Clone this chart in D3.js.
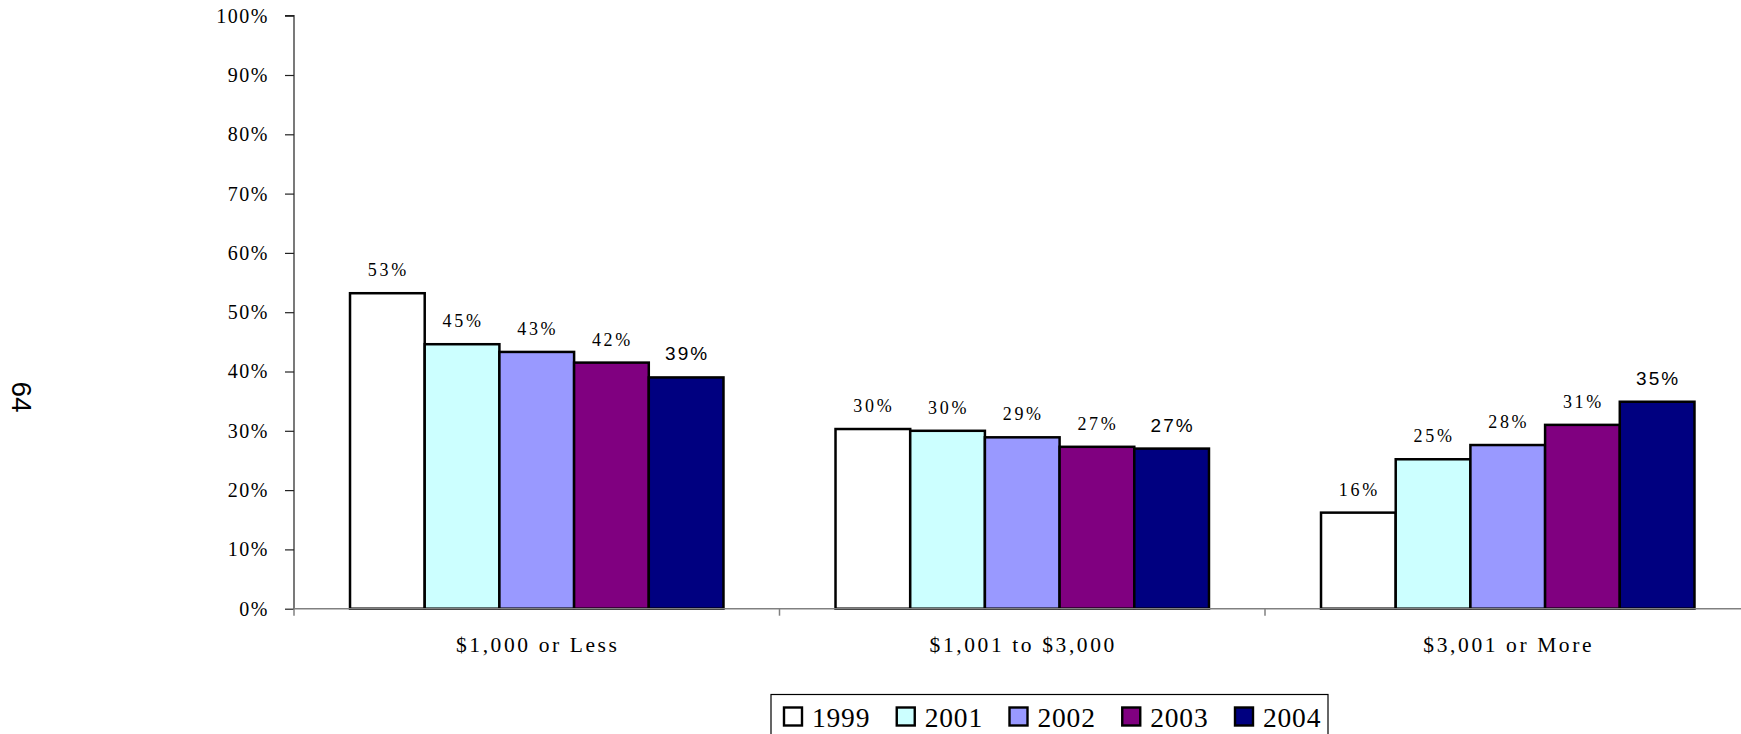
<!DOCTYPE html>
<html>
<head>
<meta charset="utf-8">
<script src="https://cdn.jsdelivr.net/npm/d3@7"></script>
<style>
  html, body { margin: 0; padding: 0; background: #fff; }
  svg { display: block; }
</style>
</head>
<body>
<svg id="chart" width="1741" height="734"></svg>
<script>
// Share of accounts by balance range, per survey year
const categories = ["$1,000 or Less", "$1,001 to $3,000", "$3,001 or More"];
const years = ["1999", "2001", "2002", "2003", "2004"];
const values1999 = [53.2, 30.3, 16.2];
const values2001 = [44.6, 30.0, 25.2];
const values2002 = [43.3, 28.9, 27.6];
const values2003 = [41.5, 27.3, 31.0];
const values2004 = [39.0, 27.0, 34.9];
const yTicks = [0, 10, 20, 30, 40, 50, 60, 70, 80, 90, 100];
const pageNumber = "64";

const seriesValues = [values1999, values2001, values2002, values2003, values2004];
const colors = ["#FFFFFF", "#CCFFFF", "#9999FF", "#800080", "#000080"];

const serif = "'Liberation Serif', 'Times New Roman', serif";
const sans = "'Liberation Sans', Arial, sans-serif";

const svg = d3.select("#chart");

const left = 294, zeroY = 608.7, topY = 15.7, bandW = 485.5;

const x0 = d3.scaleBand().domain(categories).range([left, left + bandW * 3]).padding(0);
const x1 = d3.scaleBand().domain(years).range([0, x0.bandwidth()]).paddingInner(0).paddingOuter(0.75);
const y = d3.scaleLinear().domain([0, 100]).range([zeroY, topY]);

// Y axis
const yAxis = d3.axisLeft(y)
  .tickValues(yTicks)
  .tickFormat(d => d + "%")
  .tickSize(9)
  .tickPadding(16);
const yg = svg.append("g").attr("transform", `translate(${left},0)`).call(yAxis);
yg.select(".domain").attr("stroke", "#222").attr("stroke-width", 1.2).attr("d", `M-9,${topY}H0V${zeroY}`);
yg.selectAll(".tick line").attr("stroke", "#222").attr("stroke-width", 1.2);
yg.selectAll(".tick text")
  .attr("fill", "#000")
  .style("font-family", serif)
  .style("font-size", "20px")
  .style("letter-spacing", "1.5px");

// Bars
const groups = svg.append("g").selectAll("g")
  .data(categories)
  .join("g")
  .attr("transform", d => `translate(${x0(d)},0)`);

const barData = (c, ci) => years.map((yr, si) => ({ year: yr, si, value: seriesValues[si][ci] }));

groups.selectAll("rect")
  .data((c, ci) => barData(c, ci))
  .join("rect")
  .attr("x", d => x1(d.year))
  .attr("y", d => y(d.value))
  .attr("width", x1.bandwidth())
  .attr("height", d => zeroY - y(d.value))
  .attr("fill", d => colors[d.si])
  .attr("stroke", "#000")
  .attr("stroke-width", 2.5);

// Value labels (2004 series uses a sans face)
groups.selectAll("text")
  .data((c, ci) => barData(c, ci))
  .join("text")
  .attr("x", d => x1(d.year) + x1.bandwidth() / 2 + 1)
  .attr("y", d => y(d.value) - 17)
  .attr("text-anchor", "middle")
  .style("font-family", d => d.si === 4 ? sans : serif)
  .style("font-size", d => d.si === 4 ? "19px" : "18px")
  .style("letter-spacing", d => d.si === 4 ? "2px" : "2.7px")
  .attr("fill", "#000")
  .text(d => Math.round(d.value) + "%");

// X axis baseline with category dividers
const xg = svg.append("g");
xg.append("line")
  .attr("x1", left).attr("x2", 1741)
  .attr("y1", zeroY).attr("y2", zeroY)
  .attr("stroke", "#808080").attr("stroke-width", 1.5);
xg.selectAll("line.tick")
  .data(categories)
  .join("line")
  .attr("class", "tick")
  .attr("x1", d => x0(d)).attr("x2", d => x0(d))
  .attr("y1", zeroY).attr("y2", zeroY + 7)
  .attr("stroke", "#808080").attr("stroke-width", 1.5);
xg.selectAll("text")
  .data(categories)
  .join("text")
  .attr("x", d => x0(d) + x0.bandwidth() / 2 + 1)
  .attr("y", 651.5)
  .attr("text-anchor", "middle")
  .style("font-family", serif)
  .style("font-size", "21.5px")
  .style("letter-spacing", "2.6px")
  .attr("fill", "#000")
  .text(d => d);

// Legend
const legend = svg.append("g");
legend.append("rect")
  .attr("x", 771).attr("y", 694.5)
  .attr("width", 557).attr("height", 60)
  .attr("fill", "#fff").attr("stroke", "#000").attr("stroke-width", 1.2);
const legX = d3.scalePoint().domain(years).range([784, 1235]);
const items = legend.selectAll("g.item")
  .data(years)
  .join("g")
  .attr("class", "item")
  .attr("transform", d => `translate(${legX(d)},707.5)`);
items.append("rect")
  .attr("width", 18).attr("height", 18)
  .attr("fill", (d, i) => colors[i])
  .attr("stroke", "#000").attr("stroke-width", 2.4);
items.append("text")
  .attr("x", 28).attr("y", 19)
  .style("font-family", serif)
  .style("font-size", "27.5px")
  .style("letter-spacing", "0.8px")
  .attr("fill", "#000")
  .text(d => d);

// Page number, rotated
svg.append("text")
  .attr("transform", "translate(22,397) rotate(90)")
  .attr("text-anchor", "middle")
  .attr("dy", "0.35em")
  .style("font-family", sans)
  .style("font-size", "28px")
  .attr("fill", "#000")
  .text(pageNumber);
</script>
</body>
</html>
